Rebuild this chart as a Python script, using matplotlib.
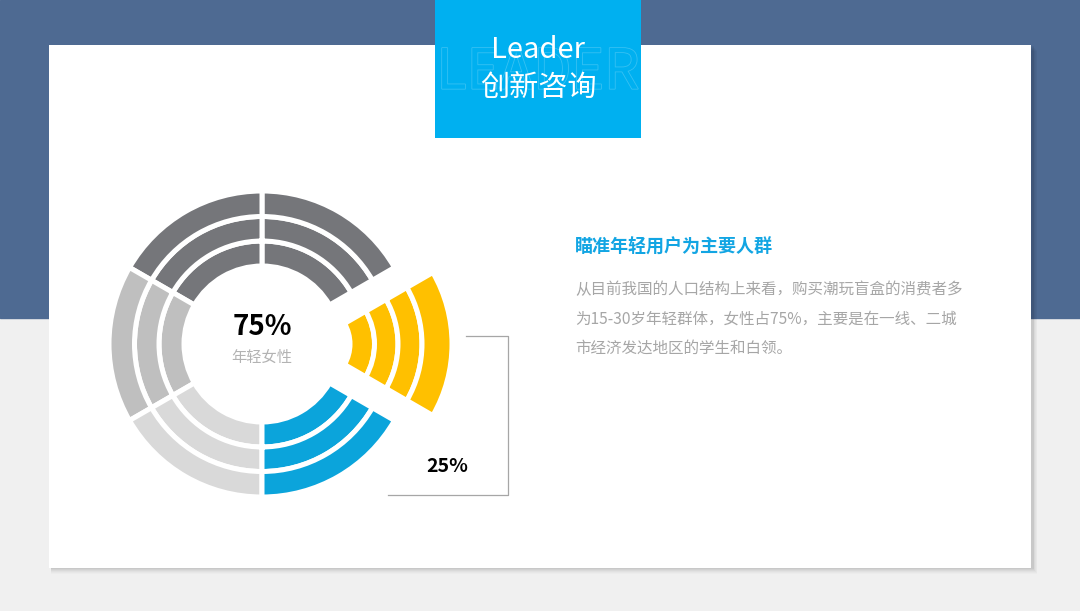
import matplotlib

matplotlib.use("Agg")
import matplotlib.pyplot as plt
import matplotlib.patheffects as pe
import numpy as np
from matplotlib.patches import Rectangle, Wedge

plt.rcParams["font.family"] = ["Noto Sans CJK SC", "DejaVu Sans"]

# ---- data ----
# six equal sectors, counter-clockwise starting at -30 deg
sector_shares = [1, 1, 1, 1, 1, 1]
sector_colors = ["#ffc000", "#75767a", "#75767a", "#bfbfbf", "#d9d9d9", "#0ba4db"]
sector_explode = [True, False, False, False, False, False]
center_value = "75%"
center_label = "年轻女性"
callout_value = "25%"

header_en = "Leader"
header_cn = "创新咨询"
header_bg = "LEADER"
title = "瞄准年轻用户为主要人群"
body_lines = [
    "从目前我国的人口结构上来看，购买潮玩盲盒的消费者多",
    "为15-30岁年轻群体，女性占75%，主要是在一线、二城",
    "市经济发达地区的学生和白领。",
]

# ---- layout (pixels, y measured from top) ----
W, H = 1080, 611
fig = plt.figure(figsize=(W / 100, H / 100), dpi=100)
ax = fig.add_axes([0, 0, 1, 1])
ax.set_xlim(0, W)
ax.set_ylim(0, H)
ax.axis("off")


def Y(y):
    return H - y


# background
ax.add_patch(Rectangle((0, 0), W, H, color="#f0f0f0", zorder=0))
ax.add_patch(Rectangle((0, Y(318)), W, 318, color="#4e6a92", zorder=0))

# card with soft shadow
cx0, cy0, cx1, cy1 = 49, 45, 1031, 568
for k, a in zip(range(6, 0, -1), [0.015, 0.02, 0.025, 0.03, 0.035, 0.04]):
    ax.add_patch(Rectangle((cx0 + 2, Y(cy1) - k), cx1 - cx0 + k * 0.7, cy1 - cy0,
                           color="black", alpha=a, lw=0, zorder=1))
ax.add_patch(Rectangle((cx0, Y(cy1)), cx1 - cx0, cy1 - cy0, color="white", lw=0, zorder=2))

# header box
box = Rectangle((435, Y(138)), 206, 138, color="#00b0f0", lw=0, zorder=3)
ax.add_patch(box)
bg = ax.text(538, Y(73), header_bg, ha="center", va="center", fontsize=40, color="#00b0f0",
             zorder=4, path_effects=[pe.Stroke(linewidth=1.2, foreground=(1, 1, 1, 0.22)),
                                     pe.Normal()])
bg.set_clip_path(box)
ax.text(538, Y(50), header_en, ha="center", va="center", fontsize=21, color="white", zorder=5)
ax.text(538, Y(88), header_cn, ha="center", va="center", fontsize=21, color="white", zorder=5)

# ---- ring chart ----
c0 = np.array([262, Y(344)])
rings = [(78, 103), (103, 127.5), (127.5, 153)]
ring_exploded = [(41, 65.5), (65.5, 89), (89, 113), (113, 143)]
explode_shift = 47
gap = 3.6

theta = -30
for share, col, ex in zip(sector_shares, sector_colors, sector_explode):
    span = 360 * share / sum(sector_shares)
    if ex:
        mid = np.deg2rad(theta + span / 2)
        c = c0 + explode_shift * np.array([np.cos(mid), np.sin(mid)])
        rr = ring_exploded
    else:
        c = c0
        rr = rings
    for r_in, r_out in rr:
        ax.add_patch(Wedge(tuple(c), r_out, theta, theta + span, width=r_out - r_in,
                           facecolor=col, edgecolor="white", lw=gap, zorder=6))
    theta += span

ax.text(262, Y(327), center_value, ha="center", va="center", fontsize=20,
        fontweight="bold", color="black", zorder=7)
ax.text(262, Y(357), center_label, ha="center", va="center", fontsize=11,
        color="#b3b3b3", zorder=7)

# callout bracket
ax.plot([466, 508, 508, 388], [Y(336), Y(336), Y(495), Y(495)], color="#a6a6a6",
        lw=0.9, zorder=5)
ax.text(447, Y(466), callout_value, ha="center", va="center", fontsize=14,
        fontweight="bold", color="black", zorder=7)

# ---- text block ----
ax.text(575, Y(247), title, ha="left", va="center", fontsize=13, fontweight="bold",
        color="#12a5e3", zorder=7)
for i, line in enumerate(body_lines):
    ax.text(575, Y(290 + 29 * i), line, ha="left", va="center", fontsize=11.2,
            color="#a6a6a6", zorder=7)

fig.savefig("out.png", dpi=100)
